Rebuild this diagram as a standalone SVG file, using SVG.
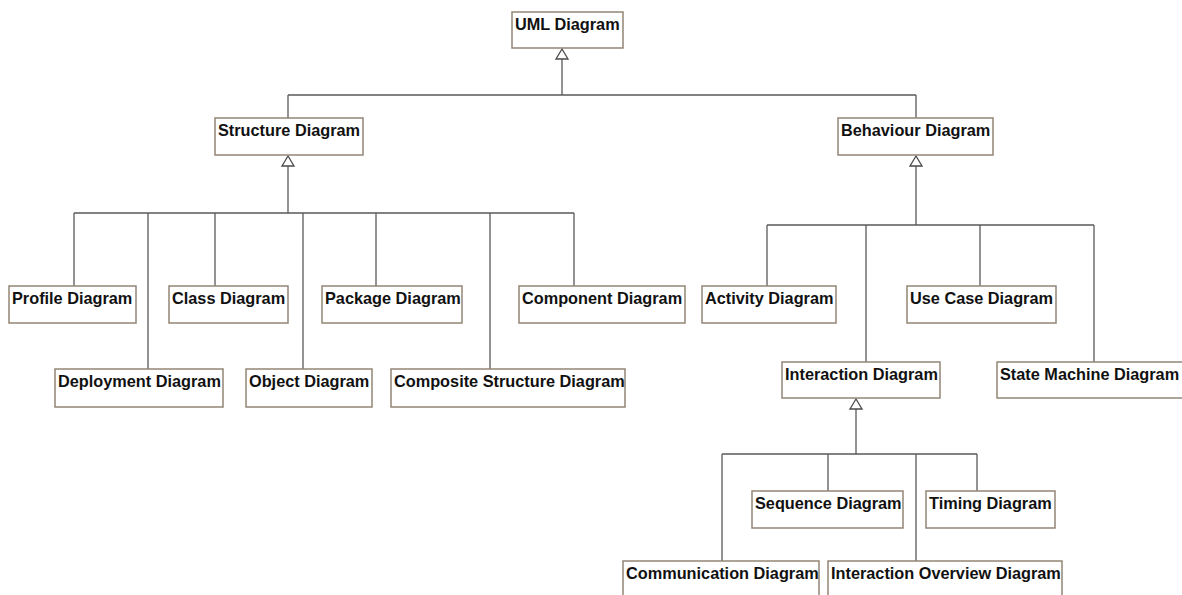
<svg xmlns="http://www.w3.org/2000/svg" width="1182" height="595" viewBox="0 0 1182 595">
  <style>
    .box { fill: #ffffff; stroke: #938575; stroke-width: 1.5; }
    .lbl { font-family: "Liberation Sans", Arial, sans-serif; font-size: 16.3px; font-weight: bold; fill: #111111; }
    .wire { fill: none; stroke: #5a5a5a; stroke-width: 1.3; }
    .head { fill: #ffffff; stroke: #4a4a4a; stroke-width: 1.3; }
  </style>
  <rect width="1182" height="595" fill="#ffffff"/>

  <!-- generalization connectors -->
  <g id="connectors">
    <!-- UML Diagram hierarchy root -->
    <path class="wire" d="M562 59 V95 M288 95 H916 M288 95 V118 M916 95 V118"/>
    <polygon class="head" points="562,49 556,59 568,59"/>

    <!-- Structure Diagram children -->
    <path class="wire" d="M288 166 V213 M74 213 H574 M74 213 V286 M148 213 V369 M215 213 V286 M303 213 V369 M376 213 V286 M490 213 V369 M574 213 V286"/>
    <polygon class="head" points="288,156 282,166 294,166"/>

    <!-- Behaviour Diagram children -->
    <path class="wire" d="M916 166 V225 M767 225 H1094 M767 225 V286 M866 225 V362 M980 225 V286 M1094 225 V362"/>
    <polygon class="head" points="916,156 910,166 922,166"/>

    <!-- Interaction Diagram children -->
    <path class="wire" d="M856 409 V454 M722 454 H977 M722 454 V561 M828 454 V491 M916 454 V561 M977 454 V491"/>
    <polygon class="head" points="856,399 850,409 862,409"/>
  </g>

  <g id="uml-diagram">
    <rect class="box" x="512" y="12" width="111" height="36"/>
    <text class="lbl" x="515" y="30">UML Diagram</text>
  </g>

  <g id="structure-diagram">
    <rect class="box" x="215" y="118" width="148" height="37"/>
    <text class="lbl" x="218" y="136">Structure Diagram</text>
  </g>
  <g id="behaviour-diagram">
    <rect class="box" x="838" y="118" width="155" height="37"/>
    <text class="lbl" x="841" y="136">Behaviour Diagram</text>
  </g>

  <g id="profile-diagram">
    <rect class="box" x="9" y="286" width="127" height="37"/>
    <text class="lbl" x="12" y="304">Profile Diagram</text>
  </g>
  <g id="class-diagram">
    <rect class="box" x="169" y="286" width="119" height="37"/>
    <text class="lbl" x="172" y="304">Class Diagram</text>
  </g>
  <g id="package-diagram">
    <rect class="box" x="322" y="286" width="140" height="37"/>
    <text class="lbl" x="325" y="304">Package Diagram</text>
  </g>
  <g id="component-diagram">
    <rect class="box" x="519" y="286" width="166" height="37"/>
    <text class="lbl" x="522" y="304">Component Diagram</text>
  </g>
  <g id="deployment-diagram">
    <rect class="box" x="55" y="369" width="168" height="38"/>
    <text class="lbl" x="58" y="387">Deployment Diagram</text>
  </g>
  <g id="object-diagram">
    <rect class="box" x="246" y="369" width="126" height="38"/>
    <text class="lbl" x="249" y="387">Object Diagram</text>
  </g>
  <g id="composite-structure-diagram">
    <rect class="box" x="391" y="369" width="234" height="38"/>
    <text class="lbl" x="394" y="387">Composite Structure Diagram</text>
  </g>

  <g id="activity-diagram">
    <rect class="box" x="702" y="286" width="134" height="37"/>
    <text class="lbl" x="705" y="304">Activity Diagram</text>
  </g>
  <g id="use-case-diagram">
    <rect class="box" x="907" y="286" width="149" height="37"/>
    <text class="lbl" x="910" y="304">Use Case Diagram</text>
  </g>
  <g id="interaction-diagram">
    <rect class="box" x="782" y="362" width="158" height="36"/>
    <text class="lbl" x="785" y="380">Interaction Diagram</text>
  </g>
  <g id="state-machine-diagram">
    <path class="box" d="M1182 362 H997 V398 H1182"/>
    <text class="lbl" x="1000" y="380">State Machine Diagram</text>
  </g>

  <g id="sequence-diagram">
    <rect class="box" x="752" y="491" width="151" height="37"/>
    <text class="lbl" x="755" y="509">Sequence Diagram</text>
  </g>
  <g id="timing-diagram">
    <rect class="box" x="926" y="491" width="129" height="37"/>
    <text class="lbl" x="929" y="509">Timing Diagram</text>
  </g>
  <g id="communication-diagram">
    <path class="box" d="M623 595 V561 H819 V595"/>
    <text class="lbl" x="626" y="579">Communication Diagram</text>
  </g>
  <g id="interaction-overview-diagram">
    <path class="box" d="M828 595 V561 H1062 V595"/>
    <text class="lbl" x="831" y="579">Interaction Overview Diagram</text>
  </g>
</svg>
